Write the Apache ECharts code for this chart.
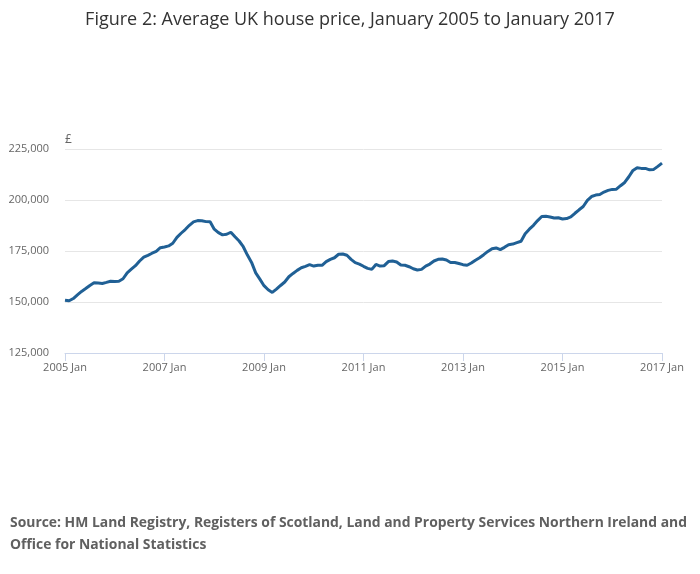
<!DOCTYPE html>
<html>
<head>
<meta charset="utf-8">
<script src="https://cdn.jsdelivr.net/npm/echarts@6/dist/echarts.min.js"></script>
<style>
  html, body { margin: 0; padding: 0; background: #fff; }
  #chart { width: 700px; height: 574px; }
</style>
</head>
<body>
<div id="chart"></div>
<script>
// average UK house price, £, monthly Jan 2005 .. Jan 2017
var startYear = 2005;
var monthNames = ['Jan', 'Feb', 'Mar', 'Apr', 'May', 'Jun', 'Jul', 'Aug', 'Sep', 'Oct', 'Nov', 'Dec'];

var prices2005_2008 = [
  150900, 150600, 151700, 153500, 155200, 156600, 158100, 159400, 159300, 159100, 159600, 160200,
  160100, 160200, 161400, 164300, 166100, 167800, 170100, 172000, 172900, 173900, 174800, 176600,
  177000, 177500, 178800, 181700, 183700, 185500, 187600, 189300, 189900, 189800, 189400, 189300,
  185700, 184000, 182900, 183200, 184200, 182000, 179900, 177100, 173000, 169400, 164300, 161200
];
var prices2009_2012 = [
  158000, 156000, 154700, 156300, 158100, 159800, 162400, 164000, 165500, 166800, 167500, 168300,
  167600, 168000, 168000, 169800, 170900, 171700, 173400, 173500, 172900, 170900, 169300, 168600,
  167500, 166500, 166000, 168400, 167600, 167800, 169800, 170100, 169600, 168100, 168000, 167300,
  166300, 165700, 166000, 167600, 168600, 170100, 170900, 171100, 170600, 169400, 169400, 168900
];
var prices2013_2017 = [
  168300, 168000, 169100, 170500, 171700, 173200, 174800, 176100, 176500, 175700, 176800, 178100,
  178400, 179100, 179800, 183500, 185700, 187600, 189900, 191900, 192000, 191700, 191200, 191300,
  190700, 190900, 191700, 193500, 195200, 196800, 199800, 201700, 202400, 202700, 203900, 204700,
  205200, 205300, 207000, 208600, 211400, 214500, 215800, 215500, 215500, 214800, 215000, 216500,
  218100
];
var yTicks = [125000, 150000, 175000, 200000, 225000];

var prices = prices2005_2008.concat(prices2009_2012, prices2013_2017);
var months = [];
for (var i = 0; i < prices.length; i++) {
  months.push((startYear + Math.floor(i / 12)) + ' ' + monthNames[i % 12]);
}

var chart = echarts.init(document.getElementById('chart'), null, { renderer: 'canvas' });

var option = {
  backgroundColor: '#ffffff',
  animation: false,
  textStyle: { fontFamily: 'Open Sans' },
  title: [{
    text: 'Figure 2: Average UK house price, January 2005 to January 2017',
    left: 'center',
    top: 6,
    textStyle: { fontFamily: 'Open Sans', fontSize: 18, fontWeight: 'normal', color: '#333333' }
  }, {
    text: 'Source: HM Land Registry, Registers of Scotland, Land and Property Services Northern Ireland and\nOffice for National Statistics',
    left: 5,
    top: 507,
    textStyle: { fontFamily: 'Open Sans', fontSize: 13.9, fontWeight: 'bold', color: '#606060', lineHeight: 22 }
  }],
  grid: { left: 65, right: 38, top: 149, bottom: 221, containLabel: false },
  xAxis: {
    type: 'category',
    data: months,
    boundaryGap: false,
    axisLine: { lineStyle: { color: '#ccd6eb', width: 1 } },
    axisTick: { show: true, interval: 23, length: 8, lineStyle: { color: '#ccd6eb' } },
    axisLabel: {
      interval: 23,
      margin: 9,
      color: '#666666',
      fontSize: 11,
      fontFamily: 'Open Sans',
      hideOverlap: false
    },
    splitLine: { show: false }
  },
  yAxis: {
    type: 'value',
    min: yTicks[0],
    max: yTicks[yTicks.length - 1],
    interval: 25000,
    name: '£',
    nameLocation: 'end',
    nameGap: 3,
    nameTextStyle: { align: 'left', color: '#666666', fontSize: 12, fontFamily: 'Open Sans' },
    axisLine: { show: false },
    axisTick: { show: false },
    axisLabel: {
      margin: 16,
      color: '#666666',
      fontSize: 11,
      fontFamily: 'Open Sans',
      formatter: function (v) { return v.toLocaleString('en-GB'); }
    },
    splitLine: { lineStyle: { color: '#e6e6e6', width: 1 } }
  },
  series: [{
    name: 'Average price',
    type: 'line',
    data: prices,
    showSymbol: false,
    smooth: false,
    lineStyle: { color: '#206095', width: 3 },
    itemStyle: { color: '#206095' }
  }]
};
chart.setOption(option);
</script>
</body>
</html>
